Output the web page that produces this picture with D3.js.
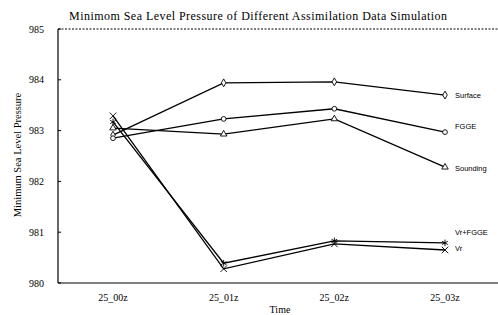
<!DOCTYPE html>
<html>
<head>
<meta charset="utf-8">
<script src="https://cdn.jsdelivr.net/npm/d3@7"></script>
<style>
  body { margin: 0; background: #fff; }
  svg { display: block; }
</style>
</head>
<body>
<div id="chart"></div>
<script>
// data
const times = ["25_00z", "25_01z", "25_02z", "25_03z"];
const yTicks = [980, 981, 982, 983, 984, 985];

const surface = [982.91, 983.94, 983.96, 983.70];
const fgge = [982.85, 983.23, 983.43, 982.97];
const sounding = [983.05, 982.93, 983.23, 982.28];
const vrFgge = [983.17, 980.39, 980.83, 980.79];
const vr = [983.29, 980.28, 980.77, 980.65];

const seriesNames = ["Surface", "FGGE", "Sounding", "Vr+FGGE", "Vr"];
const seriesValues = [surface, fgge, sounding, vrFgge, vr];

// dimensions
const width = 498, height = 315;
const margin = {top: 29, right: 0, bottom: 32, left: 58};

const svg = d3.select("#chart").append("svg")
    .attr("width", width)
    .attr("height", height)
    .style("font-family", "'Liberation Serif', 'DejaVu Serif', serif");

const x = d3.scalePoint()
    .domain(times)
    .range([113, 445]);

const y = d3.scaleLinear()
    .domain([980, 985])
    .range([height - margin.bottom, margin.top]);

// frame
svg.append("line")
    .attr("x1", margin.left).attr("x2", width)
    .attr("y1", y(985)).attr("y2", y(985))
    .attr("stroke", "#000").attr("stroke-width", 1)
    .attr("stroke-dasharray", "2,1.5");

svg.append("line")
    .attr("x1", margin.left).attr("x2", margin.left)
    .attr("y1", y(985)).attr("y2", y(980))
    .attr("stroke", "#000").attr("stroke-width", 1.2);

svg.append("line")
    .attr("x1", margin.left).attr("x2", width)
    .attr("y1", y(980)).attr("y2", y(980))
    .attr("stroke", "#000").attr("stroke-width", 1.2);

// y axis ticks + labels
const yAxis = svg.append("g");
yAxis.selectAll("line")
    .data(yTicks)
    .join("line")
    .attr("x1", margin.left).attr("x2", margin.left + 3)
    .attr("y1", d => y(d)).attr("y2", d => y(d))
    .attr("stroke", "#000");

yAxis.selectAll("text")
    .data(yTicks)
    .join("text")
    .attr("x", 44)
    .attr("y", d => y(d) + 3.5)
    .attr("text-anchor", "end")
    .attr("font-size", 10)
    .text(d => d);

// x axis labels
svg.append("g").selectAll("text")
    .data(times)
    .join("text")
    .attr("x", d => x(d))
    .attr("y", 301)
    .attr("text-anchor", "middle")
    .attr("font-size", 10)
    .text(d => d);

// titles
svg.append("text")
    .attr("x", 258).attr("y", 20)
    .attr("text-anchor", "middle")
    .attr("font-size", 12)
    .attr("textLength", 378)
    .attr("lengthAdjust", "spacing")
    .text("Minimom Sea Level Pressure of Different Assimilation Data Simulation");

svg.append("text")
    .attr("transform", `translate(21, ${155}) rotate(-90)`)
    .attr("text-anchor", "middle")
    .attr("font-size", 10.5)
    .text("Minimum Sea Level Pressure");

svg.append("text")
    .attr("x", 280).attr("y", 313)
    .attr("text-anchor", "middle")
    .attr("font-size", 10)
    .text("Time");

// lines
const line = d3.line()
    .x((d, i) => x(times[i]))
    .y(d => y(d));

const plot = svg.append("g");

plot.selectAll("path")
    .data(seriesValues)
    .join("path")
    .attr("d", line)
    .attr("fill", "none")
    .attr("stroke", "#000")
    .attr("stroke-width", 1.3);

// markers
const symbolTypes = [d3.symbolDiamond, d3.symbolCircle, d3.symbolTriangle, d3.symbolAsterisk, d3.symbolX];

seriesValues.forEach((vals, s) => {
    plot.append("g").selectAll("path")
        .data(vals)
        .join("path")
        .attr("transform", (d, i) => `translate(${x(times[i])},${y(d)})`)
        .attr("d", d3.symbol().type(symbolTypes[s]).size(s > 2 ? 30 : 18))
        .attr("fill", "#fff")
        .attr("stroke", "#000")
        .attr("stroke-width", 0.9);
});

// end labels
const labelShift = {"Surface": 3, "FGGE": -3, "Sounding": 4, "Vr+FGGE": -8, "Vr": 1};

plot.append("g").selectAll("text")
    .data(seriesNames)
    .join("text")
    .attr("x", 455)
    .attr("y", (d, i) => y(seriesValues[i][3]) + labelShift[d])
    .attr("font-family", "'Liberation Sans Narrow', 'Liberation Sans', Arial, sans-serif")
    .attr("font-size", 7.5)
    .text(d => d);
</script>
</body>
</html>
